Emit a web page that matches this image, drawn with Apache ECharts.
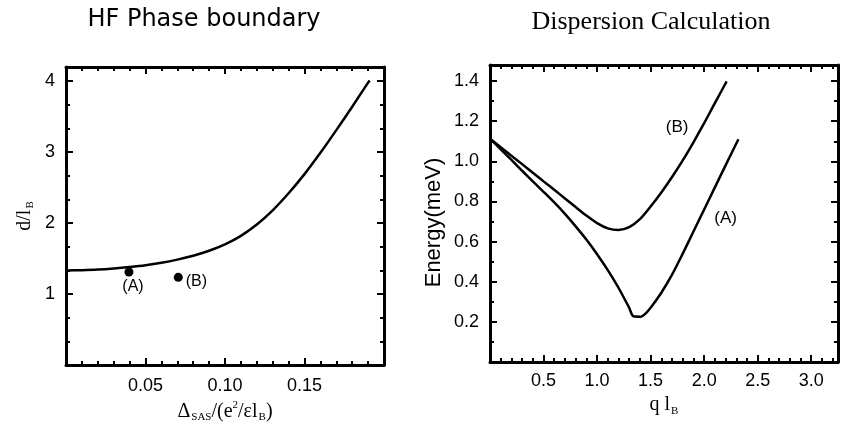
<!DOCTYPE html>
<html><head><meta charset="utf-8">
<script src="https://cdn.jsdelivr.net/npm/echarts@6/dist/echarts.min.js"></script>
<style>html,body{margin:0;padding:0;background:#fff}#c{width:844px;height:432px}</style>
</head><body><div id="c"></div>
<script>
// ---- Left panel: HF phase boundary ----
const phaseX = [0, 0.01, 0.02, 0.03, 0.04, 0.05, 0.06, 0.07, 0.08, 0.09, 0.10, 0.11, 0.12, 0.13, 0.14, 0.15, 0.16, 0.17, 0.18, 0.19, 0.191];
const phaseY = [1.333, 1.337, 1.345, 1.36, 1.38, 1.405, 1.44, 1.485, 1.54, 1.61, 1.70, 1.82, 1.98, 2.18, 2.42, 2.69, 2.99, 3.31, 3.64, 3.98, 4.01];
const pointNames = ['(A)', '(B)'];
const pointX = [0.0396, 0.0706];
const pointY = [1.31, 1.235];

// ---- Right panel: dispersion ----
const qA = [0, 0.1, 0.2, 0.3, 0.4, 0.5, 0.6, 0.7, 0.8, 0.9, 1.0, 1.1, 1.2, 1.3, 1.34, 1.41, 1.45, 1.5, 1.6, 1.7, 1.8, 1.9, 2.0, 2.1, 2.2, 2.32];
const eA = [1.113, 1.06, 1.007, 0.953, 0.90, 0.848, 0.795, 0.738, 0.676, 0.61, 0.537, 0.458, 0.37, 0.27, 0.228, 0.226, 0.24, 0.27, 0.345, 0.435, 0.54, 0.65, 0.76, 0.87, 0.98, 1.11];
const qB = [0, 0.1, 0.2, 0.3, 0.4, 0.5, 0.6, 0.7, 0.8, 0.9, 1.0, 1.1, 1.2, 1.3, 1.4, 1.5, 1.6, 1.7, 1.8, 1.9, 2.0, 2.1, 2.21];
const eB = [1.113, 1.07, 1.028, 0.986, 0.943, 0.90, 0.858, 0.815, 0.772, 0.73, 0.692, 0.666, 0.658, 0.672, 0.712, 0.775, 0.845, 0.922, 1.005, 1.095, 1.19, 1.29, 1.398];
const curveLabels = ['(A)', '(B)'];
const curveLabelQ = [2.20, 1.748];
const curveLabelE = [0.714, 1.169];

// ---- Tick labels ----
const leftXTicks = ['0.05', '0.10', '0.15'];
const leftYTicks = ['1', '2', '3', '4'];
const rightXTicks = ['0.5', '1.0', '1.5', '2.0', '2.5', '3.0'];
const rightYTicks = ['0.2', '0.4', '0.6', '0.8', '1.0', '1.2', '1.4'];

const zip = (a, b) => a.map((v, i) => [v, b[i]]);
const SANS = 'Liberation Sans, Arial, Helvetica, sans-serif';
const SERIF = 'Liberation Serif, Times New Roman, serif';
const tickLabel = {show: true, fontFamily: SANS, fontSize: 18, color: '#000'};

function ax(grid, pos, min, max, interval, len, withLine, extra) {
  return Object.assign({
    type: 'value', gridIndex: grid, position: pos, min: min, max: max, interval: interval,
    axisLine: {show: withLine, onZero: false, lineStyle: {color: '#000', width: 3}},
    axisTick: {show: true, inside: true, length: len, lineStyle: {color: '#000', width: 2}},
    axisLabel: {show: false},
    splitLine: {show: false},
    minorTick: {show: false},
    z: 10
  }, extra || {});
}
const pick = (list, s) => list.indexOf(s) >= 0 ? s : '';

const subRich = {
  m: {fontFamily: SERIF, fontSize: 20, color: '#000'},
  s: {fontFamily: SERIF, fontSize: 11, color: '#000', padding: [12, 0, 0, 1]},
  p: {fontFamily: SERIF, fontSize: 11, color: '#000', padding: [0, 0, 12, 0]}
};

const xAxes = [
  ax(0, 'bottom', 0, 0.2, 0.05, 7, true, {
    axisLabel: Object.assign({}, tickLabel, {margin: 12, formatter: v => pick(leftXTicks, v.toFixed(2))}),
    name: '{m|Δ}{s|SAS}{m|/(e}{p|2}{m|/εl}{s|B}{m|)}', nameLocation: 'middle', nameGap: 33,
    nameTextStyle: {rich: subRich}
  }),
  ax(0, 'bottom', 0, 0.2, 0.01, 4, false),
  ax(0, 'top', 0, 0.2, 0.05, 7, true),
  ax(0, 'top', 0, 0.2, 0.01, 4, false),
  ax(1, 'bottom', 0, 3.25, 0.5, 7, true, {
    axisLabel: Object.assign({}, tickLabel, {margin: 10, formatter: v => pick(rightXTicks, v.toFixed(1))}),
    name: '{m|q l}{s|B}', nameLocation: 'middle', nameGap: 25,
    nameTextStyle: {rich: subRich}
  }),
  ax(1, 'bottom', 0, 3.25, 0.1, 4, false),
  ax(1, 'top', 0, 3.25, 0.5, 7, true),
  ax(1, 'top', 0, 3.25, 0.1, 4, false)
];
const yAxes = [
  ax(0, 'left', 0, 4.2, 1, 7, true, {
    axisLabel: Object.assign({}, tickLabel, {margin: 11, formatter: v => pick(leftYTicks, String(Math.round(v * 1000) / 1000))}),
    name: '{m|d/l}{s|B}', nameLocation: 'middle', nameGap: 30,
    nameTextStyle: {rich: subRich}
  }),
  ax(0, 'left', 0, 4.2, 1 / 3, 4, false),
  ax(0, 'right', 0, 4.2, 1, 7, true),
  ax(0, 'right', 0, 4.2, 1 / 3, 4, false),
  ax(1, 'left', 0, 1.48, 0.2, 7, true, {
    axisLabel: Object.assign({}, tickLabel, {margin: 11, formatter: v => pick(rightYTicks, v.toFixed(1))}),
    name: 'Energy(meV)', nameLocation: 'middle', nameGap: 45,
    nameTextStyle: {fontFamily: SANS, fontSize: 22, color: '#000', padding: [0, 18, 0, 0]}
  }),
  ax(1, 'left', 0, 1.48, 0.1, 4, false),
  ax(1, 'right', 0, 1.48, 0.2, 7, true),
  ax(1, 'right', 0, 1.48, 0.1, 4, false)
];

const lineStyle = {color: '#000', width: 2.5};
const annot = (name, q, e) => ({
  symbol: 'circle', symbolSize: 1, itemStyle: {color: 'rgba(0,0,0,0)'},
  label: {show: true, position: 'inside', formatter: name, fontFamily: SANS, fontSize: 17, color: '#000'},
  data: [{coord: [q, e]}]
});

const option = {
  animation: false,
  backgroundColor: '#fff',
  graphic: [
    {type: 'text', x: 204, y: 20, style: {text: 'HF Phase boundary', font: '24px "DejaVu Sans", sans-serif', fill: '#000', textAlign: 'center', textVerticalAlign: 'middle'}},
    {type: 'text', x: 651, y: 22, style: {text: 'Dispersion Calculation', font: '26px "Liberation Serif", serif', fill: '#000', textAlign: 'center', textVerticalAlign: 'middle'}}
  ],
  grid: [
    {left: 66, top: 67, width: 318, height: 298},
    {left: 490, top: 65, width: 348, height: 297}
  ],
  xAxis: xAxes,
  yAxis: yAxes,
  series: [
    {type: 'line', xAxisIndex: 0, yAxisIndex: 0, data: zip(phaseX, phaseY), symbol: 'none', smooth: 0.3, lineStyle: lineStyle, z: 5},
    {type: 'scatter', xAxisIndex: 0, yAxisIndex: 0, symbolSize: 9, itemStyle: {color: '#000', opacity: 1},
      data: pointNames.map((n, i) => ({name: n, value: [pointX[i], pointY[i]],
        label: i === 0 ? {position: 'bottom', distance: 2, offset: [4, 0]} : {position: 'right', distance: 3, offset: [0, 4]}})),
      label: {show: true, formatter: p => p.name, fontFamily: SANS, fontSize: 16, color: '#000', opacity: 1}, z: 6},
    {type: 'line', name: 'A', xAxisIndex: 4, yAxisIndex: 4, data: zip(qA, eA), symbol: 'none', smooth: 0.3, lineStyle: lineStyle,
      markPoint: annot(curveLabels[0], curveLabelQ[0], curveLabelE[0]), z: 5},
    {type: 'line', name: 'B', xAxisIndex: 4, yAxisIndex: 4, data: zip(qB, eB), symbol: 'none', smooth: 0.3, lineStyle: lineStyle,
      markPoint: annot(curveLabels[1], curveLabelQ[1], curveLabelE[1]), z: 5}
  ]
};
const chart = echarts.init(document.getElementById('c'), null, {renderer: 'canvas'});
chart.setOption(option);
</script>
</body></html>
